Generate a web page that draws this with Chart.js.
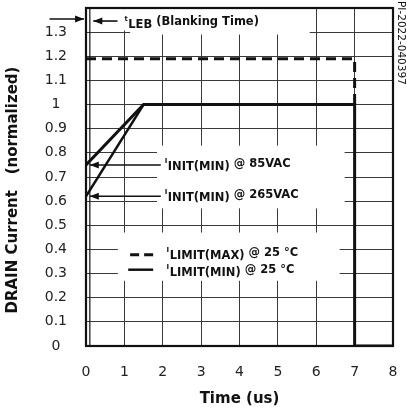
<!DOCTYPE html>
<html><head><meta charset="utf-8">
<script src="https://cdn.jsdelivr.net/npm/chart.js@4"></script>
<style>html,body{margin:0;padding:0;background:#fff}#wrap{width:407px;height:412px}</style>
</head><body><div id="wrap"><canvas id="c" width="407" height="412"></canvas></div>
<script>
const xTicks = [0,1,2,3,4,5,6,7,8];
const yTicks = [0,0.1,0.2,0.3,0.4,0.5,0.6,0.7,0.8,0.9,1,1.1,1.2,1.3];
const limitMaxX = [0, 7, 7];
const limitMaxY = [1.19, 1.19, 1.0];
const limitMinX = [0, 1.5, 7, 7, 8];
const limitMinY = [0.75, 1.0, 1.0, 0, 0];
const init265X = [0, 1.5];
const init265Y = [0.62, 1.0];
const init85Y = 0.75;
const init265Yv = 0.62;
const blankingX = 0.1;

const pts = (xs, ys) => xs.map((x, i) => ({x, y: ys[i]}));
const F = '"DejaVu Sans", "Liberation Sans", sans-serif';

function arrow(ctx, x1, y1, x2, y2) {
  ctx.beginPath(); ctx.moveTo(x1, y1); ctx.lineTo(x2, y2); ctx.stroke();
  const a = Math.atan2(y2 - y1, x2 - x1), L = 9, W = 3.5;
  ctx.beginPath();
  ctx.moveTo(x2, y2);
  ctx.lineTo(x2 - L*Math.cos(a) + W*Math.sin(a), y2 - L*Math.sin(a) - W*Math.cos(a));
  ctx.lineTo(x2 - L*Math.cos(a) - W*Math.sin(a), y2 - L*Math.sin(a) + W*Math.cos(a));
  ctx.closePath(); ctx.fill();
}
// small leading letter (raised), subscript-level label, then main text
function subText(ctx, x, yRef, pre, sub, post) {
  ctx.textBaseline = 'alphabetic';
  ctx.textAlign = 'left';
  ctx.font = `bold 7px ${F}`;
  ctx.fillText(pre, x, yRef - 2);
  let w = ctx.measureText(pre).width + 0.5;
  ctx.font = `bold 11.5px ${F}`;
  ctx.fillText(sub, x + w, yRef + 5);
  w += ctx.measureText(sub).width + 4;
  ctx.fillText(post, x + w, yRef + 2);
}
function mask(ctx, x, y, x0, x1, y0, y1) {
  const a = x.getPixelForValue(x0), b = x.getPixelForValue(x1);
  const c = y.getPixelForValue(y1), d = y.getPixelForValue(y0);
  ctx.fillRect(a, c, b - a, d - c);
}

const annot = {
  id: 'annot',
  beforeDatasetsDraw(chart) {
    const {ctx, scales: {x, y}} = chart;
    ctx.save();
    ctx.fillStyle = '#fff';
    mask(ctx, x, y, 1.85, 6.74, 0.57, 0.83);
    mask(ctx, x, y, 0.83, 6.61, 0.27, 0.47);
    mask(ctx, x, y, 0.18, 5.83, 1.307, 1.395);
    mask(ctx, x, y, 1.15, 5.83, 1.29, 1.395);
    ctx.restore();
  },
  afterDatasetsDraw(chart) {
    const {ctx, scales: {x, y}} = chart;
    ctx.save();
    ctx.strokeStyle = '#111'; ctx.fillStyle = '#111';
    // blanking line
    ctx.lineWidth = 1.2;
    ctx.beginPath();
    ctx.moveTo(x.getPixelForValue(blankingX), y.getPixelForValue(0));
    ctx.lineTo(x.getPixelForValue(blankingX), y.getPixelForValue(1.4));
    ctx.stroke();
    ctx.lineWidth = 1.6;
    // blanking arrows
    const yb = y.getPixelForValue(1.346);
    arrow(ctx, x.getPixelForValue(-0.95), yb - 2, x.getPixelForValue(-0.05), yb - 2);
    arrow(ctx, x.getPixelForValue(0.82), yb, x.getPixelForValue(0.19), yb);
    subText(ctx, x.getPixelForValue(1.0), yb + 2, 't', 'LEB', '(Blanking Time)');
    // init arrows
    const y85 = y.getPixelForValue(init85Y), y265 = y.getPixelForValue(init265Yv);
    arrow(ctx, x.getPixelForValue(1.95), y85, x.getPixelForValue(0.1), y85);
    arrow(ctx, x.getPixelForValue(1.95), y265, x.getPixelForValue(0.1), y265);
    subText(ctx, x.getPixelForValue(2.05), y85, 'I', 'INIT(MIN)', '@ 85VAC');
    subText(ctx, x.getPixelForValue(2.05), y265, 'I', 'INIT(MIN)', '@ 265VAC');
    // legend
    const l1 = y.getPixelForValue(0.378), l2 = y.getPixelForValue(0.316);
    ctx.lineWidth = 3;
    ctx.setLineDash([9, 5]);
    ctx.beginPath(); ctx.moveTo(x.getPixelForValue(1.15), l1); ctx.lineTo(x.getPixelForValue(1.75), l1); ctx.stroke();
    ctx.setLineDash([]);
    ctx.lineWidth = 2.5;
    ctx.beginPath(); ctx.moveTo(x.getPixelForValue(1.1), l2); ctx.lineTo(x.getPixelForValue(1.75), l2); ctx.stroke();
    subText(ctx, x.getPixelForValue(2.1), l1 - 1, 'I', 'LIMIT(MAX)', '@ 25 °C');
    subText(ctx, x.getPixelForValue(2.1), l2 + 1, 'I', 'LIMIT(MIN)', '@ 25 °C');
    // frame
    const ca = chart.chartArea;
    ctx.lineWidth = 2.2;
    ctx.strokeRect(ca.left, ca.top, ca.right - ca.left, ca.bottom - ca.top);
    // side code
    ctx.translate(401, 1);
    ctx.rotate(Math.PI / 2);
    ctx.font = `10.5px ${F}`;
    ctx.textAlign = 'left'; ctx.textBaseline = 'middle';
    ctx.fillText('PI-2022-040397', 0, 0);
    ctx.restore();
  }
};

new Chart(document.getElementById('c'), {
  type: 'scatter',
  data: {
    datasets: [
      {data: pts(limitMaxX, limitMaxY), showLine: true, borderColor: '#111', borderWidth: 3, borderDash: [10, 6], pointRadius: 0, tension: 0},
      {data: pts(limitMinX, limitMinY), showLine: true, borderColor: '#111', borderWidth: 3, pointRadius: 0, tension: 0},
      {data: pts(init265X, init265Y), showLine: true, borderColor: '#111', borderWidth: 2.5, pointRadius: 0, tension: 0}
    ]
  },
  options: {
    responsive: false, animation: false, devicePixelRatio: 1,
    layout: {padding: {top: 8, right: 14, left: 0, bottom: 0}},
    plugins: {legend: {display: false}, tooltip: {enabled: false}},
    scales: {
      x: {
        type: 'linear', min: 0, max: 8,
        afterBuildTicks: s => { s.ticks = xTicks.map(v => ({value: v})); },
        afterFit: s => { s.height = 66; s.paddingLeft = 0; s.paddingRight = 0; },
        grid: {color: '#3a3a3a', lineWidth: 1, drawTicks: false},
        border: {display: false},
        ticks: {color: '#222', font: {family: F, size: 14}, padding: 18, callback: v => String(v)},
        title: {display: true, text: 'Time (us)', color: '#111', font: {family: F, size: 15, weight: 'bold'}, padding: {top: 1}}
      },
      y: {
        type: 'linear', min: 0, max: 1.4,
        afterBuildTicks: s => { s.ticks = yTicks.map(v => ({value: v})).concat([{value: 1.4}]); },
        afterFit: s => { s.width = 86; s.paddingTop = 0; s.paddingBottom = 0; },
        grid: {color: '#3a3a3a', lineWidth: 1, drawTicks: false},
        border: {display: false},
        ticks: {color: '#222', font: {family: F, size: 14}, padding: 19, crossAlign: 'center',
          callback: v => v >= 1.35 ? '' : String(Math.round(v * 10) / 10)},
        title: {display: true, text: 'DRAIN Current   (normalized)     ', color: '#111', font: {family: F, size: 15, weight: 'bold'}, padding: {top: 4, bottom: 0}}
      }
    }
  },
  plugins: [annot]
});
</script></body></html>
